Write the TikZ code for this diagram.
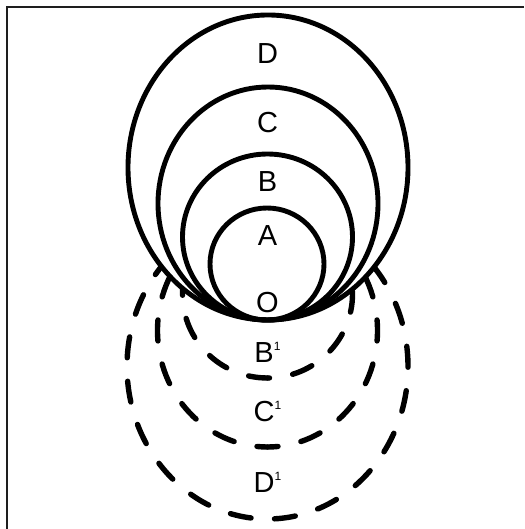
\documentclass[tikz,border=0pt]{standalone}
\usepackage{fontspec}
\usetikzlibrary{calc}
\newfontfamily\labelfont{Liberation Sans}
\definecolor{inkframe}{HTML}{1E1E1E}
\newcommand{\supone}{\raisebox{11.5pt}{\fontsize{12}{12}\selectfont 1}}

\begin{document}
\begin{tikzpicture}[x=1pt, y=-1pt,
    ring/.style={line width=4.9pt},
    ghost/.style={line width=5.4pt, line cap=round, dash pattern=on 21pt off 23.5pt},
    lbl/.style={font=\labelfont\fontsize{29}{30}\selectfont, anchor=base, inner sep=0pt}]
  \useasboundingbox (0,0) rectangle (524,529);
  \draw[inkframe, line width=1.2pt] (524,7) -- (7,7) -- (7,529);
  % dashed rings below O, each drawn as two halves from the bottom
  \foreach \cy/\rx/\ry/\pr/\pl in {294/85/84/19/2, 330.5/110/116.5/10.5/10.5,
                                   366.5/140.5/152.5/37.5/28}{%
    \draw[ghost, dash phase=\pl pt] (267.5,\cy+\ry)
      arc[start angle=90, end angle=270, x radius=\rx, y radius=\ry];
    \draw[ghost, dash phase=\pr pt] (267.5,\cy+\ry)
      arc[start angle=90, end angle=-90, x radius=\rx, y radius=\ry];}
  % solid rings above O, all touching at the bottom
  \fill[white] (268,167.5) circle[x radius=140, y radius=152.5];
  \foreach \cx/\cy/\rx/\ry in {268/167.5/140/152.5, 268/203.5/110/116.5,
                               267.5/237/85/83, 267/264/57/56}{%
    \draw[ring] (\cx,\cy) circle[x radius=\rx, y radius=\ry];}
  \foreach \lab/\base [count=\i] in {D/63.5, C/133, B/192, A/245.5, O/312,
                                     {B\supone}/362, {C\supone}/421, {D\supone}/492}{%
    \node[lbl] (l\i) at (267.5,\base) {\lab};}
\end{tikzpicture}
\end{document}
